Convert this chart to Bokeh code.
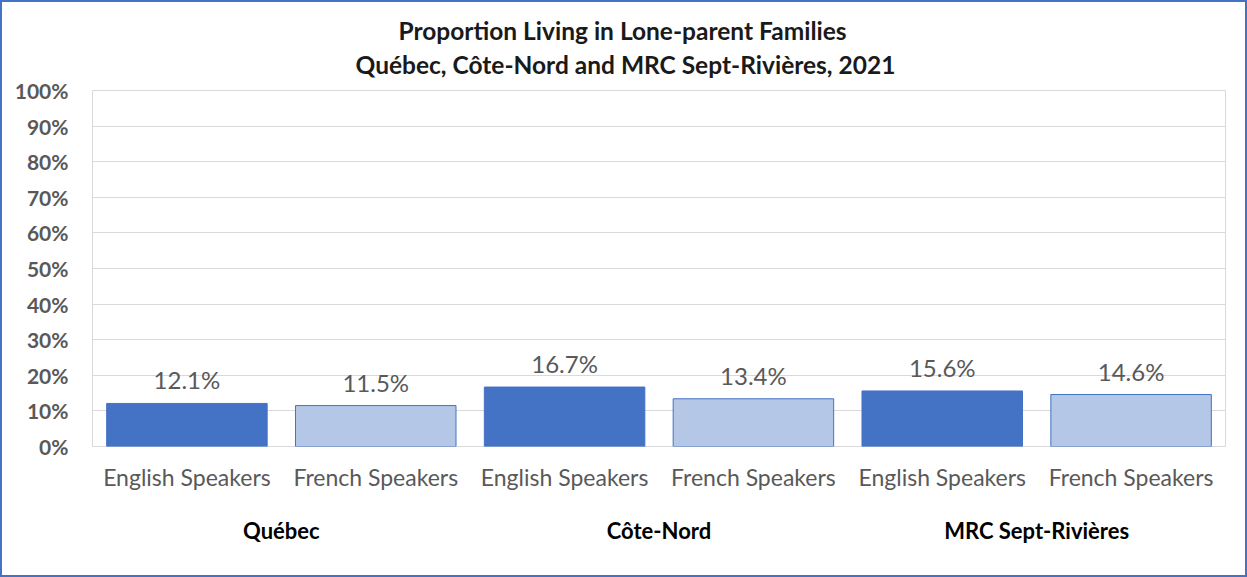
from bokeh.plotting import figure
from bokeh.models import (FactorRange, ColumnDataSource, LabelSet, Title, CategoricalAxis,
                          PrintfTickFormatter, FixedTicker)
from bokeh.core.properties import value
from bokeh.transform import factor_cmap
from bokeh.embed import file_html
from bokeh.resources import INLINE

regions = ["Québec", "Côte-Nord", "MRC Sept-Rivières"]
speakers = ["English Speakers", "French Speakers"]
english = [12.1, 16.7, 15.6]
french = [11.5, 13.4, 14.6]
y_ticks = [0, 10, 20, 30, 40, 50, 60, 70, 80, 90, 100]
title1 = "Proportion Living in Lone-parent Families"
title2 = "Québec, Côte-Nord and MRC Sept-Rivières, 2021"

factors = []
values = []
for r, e, f in zip(regions, english, french):
    factors += [(r, speakers[0]), (r, speakers[1])]
    values += [e, f]
labels = [f"{v:.1f}%" for v in values]

src = ColumnDataSource(dict(x=factors, y=values, lab=labels))

FONT = "Lato"

p = figure(width=1243, height=573, output_backend="svg", toolbar_location=None,
           x_range=FactorRange(*factors, group_padding=0, factor_padding=0, range_padding=0),
           y_range=(0, 100), title=None,
           min_border_left=90, min_border_right=24, min_border_top=88, min_border_bottom=133)
p.styles = {"border": "2px solid #4472C4", "box-sizing": "content-box"}

p.vbar(x="x", top="y", width=0.85, source=src,
       fill_color=factor_cmap("x", palette=["#4472C4", "#B4C7E7"], factors=speakers, start=1, end=2),
       line_color="#4472C4", line_width=1)

p.add_layout(LabelSet(x="x", y="y", text="lab", source=src, y_offset=9,
                      text_align="center", text_baseline="bottom",
                      text_font=value(FONT), text_font_size=value("24px"),
                      text_color="#595959"))

p.outline_line_color = "#d9d9d9"
p.outline_line_width = 1
p.xgrid.grid_line_color = None
p.ygrid.grid_line_color = "#d9d9d9"
p.ygrid.grid_line_width = 1

p.yaxis.ticker = FixedTicker(ticks=y_ticks)
p.yaxis.formatter = PrintfTickFormatter(format="%d%%")
p.yaxis.axis_line_color = None
p.yaxis.major_tick_line_color = None
p.yaxis.minor_tick_line_color = None
p.yaxis.major_label_standoff = 18
p.yaxis.major_label_text_font = FONT
p.yaxis.major_label_text_font_size = "21px"
p.yaxis.major_label_text_font_style = "bold"
p.yaxis.major_label_text_color = "#595959"

xa = p.xaxis[0]
xa.axis_line_color = None
xa.major_tick_line_color = None
xa.minor_tick_line_color = None
xa.separator_line_color = None
xa.major_label_standoff = 10
xa.major_label_orientation = "horizontal"
xa.major_label_text_font = FONT
xa.major_label_text_font_size = "23px"
xa.major_label_text_color = "#595959"
xa.group_text_font_size = "1px"
xa.group_text_color = None

# region labels on a second axis below
p.extra_x_ranges = {"grp": FactorRange(*regions, range_padding=0)}
ga = CategoricalAxis(x_range_name="grp")
ga.axis_line_color = None
ga.major_tick_line_color = None
ga.minor_tick_line_color = None
ga.major_label_standoff = 17
ga.major_label_orientation = "horizontal"
ga.major_label_text_font = FONT
ga.major_label_text_font_size = "22px"
ga.major_label_text_font_style = "bold"
ga.major_label_text_color = "#000000"
p.add_layout(ga, "below")

# title lines
p.add_layout(Title(text=title2, align="left", offset=263, standoff=23,
                   text_font=FONT, text_font_size="24.5px", text_font_style="bold",
                   text_color="#1a1a1a"), "above")
p.add_layout(Title(text=title1, align="left", offset=306, standoff=-17,
                   text_font=FONT, text_font_size="24.5px", text_font_style="bold",
                   text_color="#1a1a1a"), "above")

open("out.html", "w").write(file_html(p, INLINE))
